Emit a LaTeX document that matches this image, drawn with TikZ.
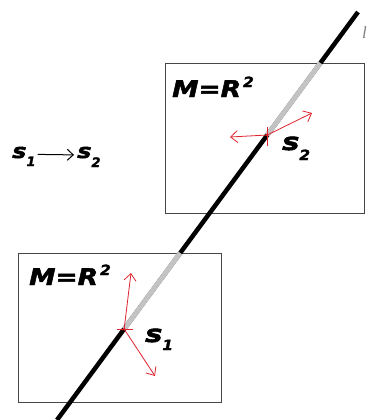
\documentclass[tikz,border=0pt]{standalone}
\usepackage{fontspec}
\setmainfont{DejaVu Sans}
\newfontfamily\heavyfont{DejaVu Sans}[FakeBold=2]
\newfontfamily\seriffont{Liberation Serif}
\usetikzlibrary{arrows.meta,calc}
\definecolor{vred}{RGB}{225,35,45}
\definecolor{lgray}{RGB}{195,195,195}
\definecolor{edge}{RGB}{70,70,70}
\tikzset{
  frame/.style={draw=edge, line width=0.9pt},
  blk/.style={line width=4.5pt, black},
  gry/.style={line width=4.9pt, lgray},
  vec/.style={draw=vred, line width=0.8pt, -{Straight Barb[length=7pt,width=12pt]}},
  tickmark/.style={draw=vred, line width=0.9pt},
  lab/.style={font=\heavyfont\bfseries\itshape, inner sep=0pt, anchor=base west},
}
\newcommand{\labbig}[1]{\scalebox{1.15}[1]{\fontsize{23}{23}\selectfont #1}}
\newcommand{\labsml}[1]{\scalebox{1.1}[1]{\fontsize{14}{14}\selectfont #1}}
\begin{document}
\begin{tikzpicture}[x=1pt,y=-1pt]
\useasboundingbox (0,0) rectangle (370,420);
% frames
\draw[frame] (165,63) rectangle (364,213);
\draw[frame] (18,253) rectangle (221,402);
% the line l
\coordinate (top) at (358,12);
\coordinate (bot) at (57,420);
\coordinate (g1) at ($(top)!0.125!(bot)$);
\coordinate (s2) at ($(top)!0.3015!(bot)$);
\coordinate (g2) at ($(top)!0.5907!(bot)$);
\coordinate (s1) at ($(top)!0.777!(bot)$);
\draw[blk] (top) -- (bot);
\draw[gry] (g1) -- (s2);
\draw[gry] (g2) -- (s1);
% vectors at s2
\coordinate (v2a) at (230,137);
\coordinate (v2b) at (312,113);
\draw[vec] (s2) -- (v2a);
\draw[vec] (s2) -- (v2b);
\draw[tickmark] ($(s2)+(0,-8)$) -- ($(s2)+(0,11)$);
\fill[vred] (s2) circle (1.6pt);
% vectors at s1
\coordinate (v1a) at (131,273);
\coordinate (v1b) at (155,376);
\draw[vec] (s1) -- (v1a);
\draw[vec] (s1) -- (v1b);
\draw[tickmark] ($(s1)+(-7,0)$) -- ($(s1)+(9,0)$);
\fill[vred] (s1) circle (1.6pt);
% labels
\node[lab] (m1) at (172,97) {\labbig{M=R}\kern2pt\raisebox{10pt}{\labsml{2}}};
\node[lab] (m2) at (29,285) {\labbig{M=R}\kern2pt\raisebox{10pt}{\labsml{2}}};
\node[lab] (ls2) at (282,150) {\scalebox{1.2}[1]{\fontsize{24}{24}\selectfont s}\raisebox{-10pt}{\labsml{2}}};
\node[lab] (ls1) at (145,342) {\scalebox{1.2}[1]{\fontsize{24}{24}\selectfont s}\raisebox{-8pt}{\labsml{1}}};
\node[lab] (a1) at (12,158) {\scalebox{1.2}[1]{\fontsize{20}{20}\selectfont s}\raisebox{-8pt}{\fontsize{13}{13}\selectfont 1}};
\node[lab] (a2) at (77,158) {\scalebox{1.2}[1]{\fontsize{20}{20}\selectfont s}\raisebox{-9pt}{\fontsize{13}{13}\selectfont 2}};
\draw[line width=1pt, -{Straight Barb[length=6pt,width=11pt]}] ($(a1.east)+(2,-2)$) -- ($(a2.west)+(-3,-2)$);
\node[inner sep=0pt, anchor=base west, text=gray, font=\seriffont\itshape\fontsize{17}{17}\selectfont] (lab) at (362,39) {l};
\end{tikzpicture}
\end{document}
